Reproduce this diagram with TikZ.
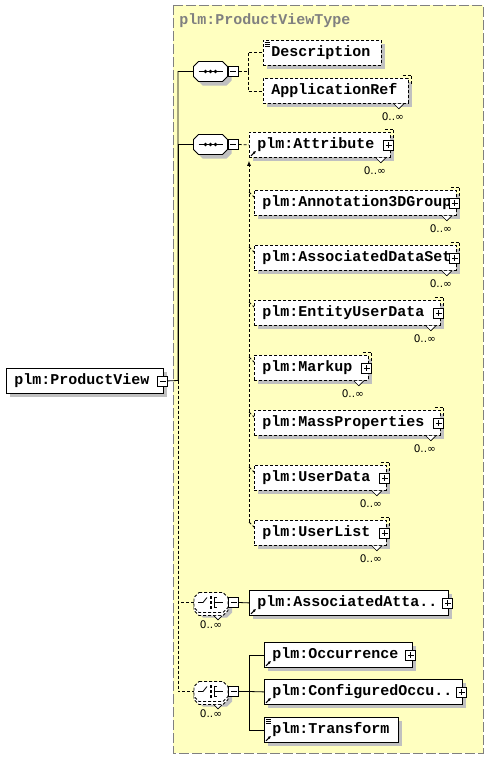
\documentclass[tikz,border=0pt]{standalone}
\usepackage{fontspec}
\setmonofont{Liberation Mono}
\newfontfamily\anzahlfont{DejaVu Sans}
\usetikzlibrary{shadows,arrows.meta}

\definecolor{gelb}{RGB}{255,255,192}
\definecolor{rahmengrau}{RGB}{128,128,128}
\definecolor{schattengrau}{RGB}{192,192,192}

% Mehrfach-Element: Ecke, Kerbe, Anzahl
\newcommand{\viele}[1]{%
  \draw[optional] ([xshift=-6pt,yshift=3pt]#1.north east) -| ([xshift=3pt,yshift=-6pt]#1.north east);
  \draw[line width=0.6pt, fill=white] ([xshift=-15pt]#1.south east) -- ++(5pt,-5pt) -- ++(5pt,5pt);
  \node[anzahl] (#1-anz) at ([xshift=-16pt,yshift=-13pt]#1.south east) {0..∞};}
% Inhalt (einfacher Typ)
\newcommand{\inhalt}[1]{%
  \draw[line width=0.6pt] ([xshift=1.5pt,yshift=-2pt]#1.north west) -- ++(5pt,0);
  \draw[line width=0.6pt] ([xshift=1.5pt,yshift=-4pt]#1.north west) -- ++(5pt,0);
  \draw[line width=0.6pt] ([xshift=1.5pt,yshift=-6pt]#1.north west) -- ++(5pt,0);}
% Referenzpfeil
\newcommand{\verweis}[1]{%
  \draw[line width=1pt, -{Latex[length=3pt,width=3pt]}] ([xshift=2pt,yshift=2pt]#1.south west) -- ++(5pt,5pt);}

\begin{document}
\begin{tikzpicture}[x=1pt, y=-1pt, line width=0.8pt,
  schatten/.style={general shadow={fill=schattengrau, shadow xshift=4pt, shadow yshift=-4pt}},
  element/.style={draw, fill=white, schatten, anchor=north west, minimum height=25pt,
    inner xsep=8pt, inner ysep=2pt, text width=#1pt, align=left,
    font=\ttfamily\bfseries\fontsize{15}{18}\selectfont},
  optional/.style={dash pattern=on 3pt off 2pt},
  anzahl/.style={inner sep=0pt, font=\anzahlfont\fontsize{10.5}{11}\selectfont},
  titel/.style={inner sep=0pt, text=rahmengrau, font=\ttfamily\bfseries\fontsize{15}{18}\selectfont},
  minus/.style={draw, fill=white, minimum size=10pt, inner sep=0pt, line width=0.7pt,
    path picture={\draw ([xshift=-3pt]path picture bounding box.center) -- ([xshift=3pt]path picture bounding box.center);}},
  plus/.style={draw, fill=white, minimum size=10pt, inner sep=0pt, line width=0.7pt,
    path picture={\draw ([xshift=-3pt]path picture bounding box.center) -- ([xshift=3pt]path picture bounding box.center);
      \draw ([yshift=-3pt]path picture bounding box.center) -- ([yshift=3pt]path picture bounding box.center);}},
  achteckform/.style={insert path={++(-12,-10) -- ++(24,0) -- ++(5,5) -- ++(0,10) -- ++(-5,5) -- ++(-24,0) -- ++(-5,-5) -- ++(0,-10) -- cycle}},
  sequenz/.style={minimum width=34pt, minimum height=20pt, inner sep=0pt,
    path picture={\draw ([xshift=-12pt]path picture bounding box.center) -- ([xshift=12pt]path picture bounding box.center);
      \fill ([xshift=-5pt]path picture bounding box.center) circle (1.9pt);
      \fill (path picture bounding box.center) circle (1.9pt);
      \fill ([xshift=5pt]path picture bounding box.center) circle (1.9pt);}},
  auswahl/.style={minimum width=34pt, minimum height=20pt, inner sep=0pt,
    path picture={\draw ([xshift=-13pt]path picture bounding box.center) -- ([xshift=-8pt]path picture bounding box.center) -- ([xshift=-4pt,yshift=5pt]path picture bounding box.center);
      \fill ([yshift=5pt]path picture bounding box.center) +(-1.4pt,-1.4pt) rectangle +(1.4pt,1.4pt);
      \fill (path picture bounding box.center) +(-1.4pt,-1.4pt) rectangle +(1.4pt,1.4pt);
      \fill ([yshift=-5pt]path picture bounding box.center) +(-1.4pt,-1.4pt) rectangle +(1.4pt,1.4pt);
      \draw ([xshift=6pt,yshift=5pt]path picture bounding box.center) -- ([xshift=3pt,yshift=5pt]path picture bounding box.center)
        -- ([xshift=3pt,yshift=-5pt]path picture bounding box.center) -- ([xshift=6pt,yshift=-5pt]path picture bounding box.center);
      \draw ([xshift=3pt]path picture bounding box.center) -- ([xshift=12pt]path picture bounding box.center);}}
]

  \useasboundingbox (0,0) rectangle (488,760);

  % Typ-Hintergrund
  \draw[fill=gelb, draw=rahmengrau, dash pattern=on 10pt off 3pt] (173,5) rectangle (483,753);
  \node[titel, anchor=base west] (typ) at (179,24.5) {plm:ProductViewType};

  % Wurzelelement
  \node[element=141] (pv) at (6,368) {plm:ProductView};
  \node[minus] (pvm) at ([xshift=-1pt]pv.east) {};
  \coordinate (stamm) at (178,380.5);

  % Sequenzen
  \fill[schattengrau] (214.5,75.5) [achteckform];
  \filldraw[fill=white] (210.5,71.5) [achteckform];
  \node[sequenz] (seq1) at (210.5,71.5) {};
  \node[minus, anchor=west] (seq1m) at (seq1.east) {};
  \fill[schattengrau] (214.5,148.5) [achteckform];
  \filldraw[fill=white] (210.5,144.5) [achteckform];
  \node[sequenz] (seq2) at (210.5,144.5) {};
  \node[minus, anchor=west] (seq2m) at (seq2.east) {};

  % Auswahlen
  \fill[schattengrau] (215,607.5) [achteckform];
  \filldraw[fill=white, optional] (211,605.5) [achteckform];
  \filldraw[fill=white, optional] (211,602.5) [achteckform];
  \node[auswahl] (wahl1) at (211,602.5) {};
  \node[minus, anchor=west] (wahl1m) at (wahl1.east) {};
  \fill[schattengrau] (215,696.5) [achteckform];
  \filldraw[fill=white, optional] (211,694.5) [achteckform];
  \filldraw[fill=white, optional] (211,691.5) [achteckform];
  \node[auswahl] (wahl2) at (211,691.5) {};
  \node[minus, anchor=west] (wahl2m) at (wahl2.east) {};
  \draw[line width=0.6pt, fill=white] ([xshift=3pt,yshift=-3pt]wahl1.south) -- ++(4pt,-4pt) -- ++(4pt,4pt);
  \draw[line width=0.6pt, fill=white] ([xshift=3pt,yshift=-3pt]wahl2.south) -- ++(4pt,-4pt) -- ++(4pt,4pt);
  \node[anzahl] (wahl1-anz) at ([yshift=-12pt]wahl1.south) {0..∞};
  \node[anzahl] (wahl2-anz) at ([yshift=-12pt]wahl2.south) {0..∞};

  % Stamm
  \draw (pvm.east) -- (stamm) |- (seq1.west);
  \draw (stamm) |- (seq2.west);
  \draw[optional] (stamm) |- (wahl1.west);
  \draw[optional] (stamm) |- (wahl2.west);

  % Elemente der ersten Sequenz
  \node[element=102, optional] (desc) at (263,40) {Description};
  \node[element=129, optional] (appref) at (263,78) {ApplicationRef};
  \inhalt{desc}
  \viele{appref}
  \coordinate (g1) at (248,71.5);
  \draw[optional] (seq1m.east) -- (g1);
  \draw[optional] (g1) |- (desc.west);
  \draw[optional] (g1) |- (appref.west);

  % Attribut und Ersetzungsgruppe
  \node[element=125, optional] (attr) at (249,132) {plm:Attribute};
  \node[element=186, optional] (annot) at (254,190) {plm:Annotation3DGroup};
  \node[element=186, optional] (assocds) at (254,245) {plm:AssociatedDataSet};
  \node[element=170, optional] (eud) at (254,300) {plm:EntityUserData};
  \node[element=98, optional] (markup) at (254,355) {plm:Markup};
  \node[element=170, optional] (mass) at (254,410) {plm:MassProperties};
  \node[element=116, optional] (udata) at (254,465) {plm:UserData};
  \node[element=116, optional] (ulist) at (254,520) {plm:UserList};
  \draw[optional] (seq2m.east) -- (attr.west);
  \draw[optional, -{Latex[length=5pt,width=4pt]}] ([xshift=-5pt,yshift=-2pt]ulist.north west) -- ([yshift=-3pt]attr.south west);
  \draw[optional] ([xshift=-5pt,yshift=-2pt]annot.north west) -- ([yshift=-7pt]annot.north west);
  \draw[optional] ([xshift=-5pt,yshift=-2pt]assocds.north west) -- ([yshift=-7pt]assocds.north west);
  \draw[optional] ([xshift=-5pt,yshift=-2pt]eud.north west) -- ([yshift=-7pt]eud.north west);
  \draw[optional] ([xshift=-5pt,yshift=-2pt]markup.north west) -- ([yshift=-7pt]markup.north west);
  \draw[optional] ([xshift=-5pt,yshift=-2pt]mass.north west) -- ([yshift=-7pt]mass.north west);
  \draw[optional] ([xshift=-5pt,yshift=-2pt]udata.north west) -- ([yshift=-7pt]udata.north west);
  \draw[optional] ([xshift=-5pt,yshift=-2pt]ulist.north west) -- ([yshift=-7pt]ulist.north west);
  \viele{attr}
  \viele{annot}
  \viele{assocds}
  \viele{eud}
  \viele{markup}
  \viele{mass}
  \viele{udata}
  \viele{ulist}
  \verweis{attr}

  % Auswahl-Elemente
  \node[element=183] (assatt) at (249,590) {plm:AssociatedAtta..};
  \node[element=132] (occ) at (264,642) {plm:Occurrence};
  \node[element=182] (confocc) at (264,679) {plm:ConfiguredOccu..};
  \node[element=118] (trans) at (264,717) {plm:Transform};
  \draw (wahl1m.east) -- (assatt.west);
  \coordinate (g2) at (249,691.5);
  \draw (wahl2m.east) -- (g2);
  \draw (g2) |- (occ.west);
  \draw (g2) -- (confocc.west);
  \draw (g2) |- (trans.west);
  \verweis{assatt}
  \verweis{occ}
  \verweis{confocc}
  \verweis{trans}
  \inhalt{trans}

  % Aufklapp-Knöpfe
  \node[plus] (attrp) at ([xshift=-2pt]attr.east) {};
  \node[plus] (annotp) at ([xshift=-2pt]annot.east) {};
  \node[plus] (assocdsp) at ([xshift=-2pt]assocds.east) {};
  \node[plus] (eudp) at ([xshift=-2pt]eud.east) {};
  \node[plus] (markupp) at ([xshift=-2pt]markup.east) {};
  \node[plus] (massp) at ([xshift=-2pt]mass.east) {};
  \node[plus] (udatap) at ([xshift=-2pt]udata.east) {};
  \node[plus] (ulistp) at ([xshift=-2pt]ulist.east) {};
  \node[plus] (assattp) at ([xshift=-1pt]assatt.east) {};
  \node[plus] (occp) at ([xshift=-2pt]occ.east) {};
  \node[plus] (confoccp) at ([xshift=-1pt]confocc.east) {};

\end{tikzpicture}
\end{document}
